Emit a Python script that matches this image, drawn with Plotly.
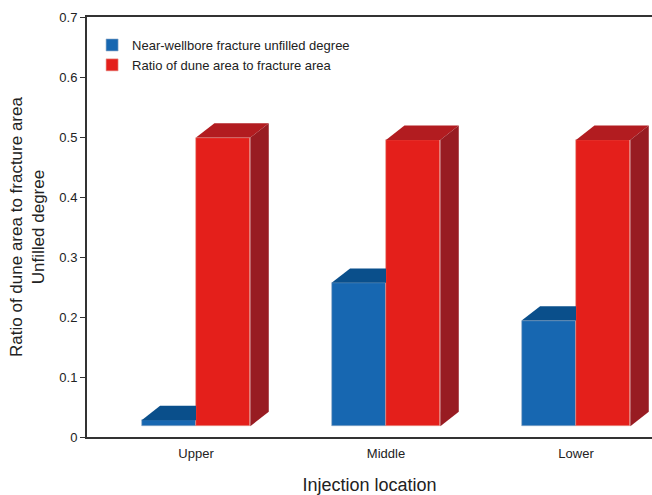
import plotly.graph_objects as go

# Data
categories = ["Upper", "Middle", "Lower"]
unfilled_degree = [0.028, 0.257, 0.194]
dune_ratio = [0.499, 0.495, 0.495]
series_names = ["Near-wellbore fracture unfilled degree", "Ratio of dune area to fracture area"]
y_ticks = [0, 0.1, 0.2, 0.3, 0.4, 0.5, 0.6, 0.7]
y_ticktext = ["0", "0.1", "0.2", "0.3", "0.4", "0.5", "0.6", "0.7"]

# Styling of the pseudo-3D bars
FLOOR = 0.018          # bars sit on a raised floor
BAR_W = 0.286          # width of each bar's front face (x units)
DX, DY = 0.097, 0.024  # depth offset of the back faces

BLUE_FRONT, BLUE_TOP = "#1767B1", "#0A4F8B"
RED_FRONT, RED_TOP, RED_SIDE = "#E41F1B", "#B21C20", "#981C22"

xs = list(range(len(categories)))
fig = go.Figure()


def poly(px, py, color):
    fig.add_trace(go.Scatter(
        x=px + [px[0]], y=py + [py[0]], mode="lines", fill="toself",
        fillcolor=color, line=dict(width=0, color=color),
        hoverinfo="skip", showlegend=False))


# Front faces
fig.add_trace(go.Bar(
    x=[i - BAR_W / 2 for i in xs], y=[v - FLOOR for v in unfilled_degree], base=FLOOR,
    width=BAR_W, marker=dict(color=BLUE_FRONT, line=dict(width=0.6, color="#8FA7C4")),
    name=series_names[0]))
fig.add_trace(go.Bar(
    x=[i + BAR_W / 2 for i in xs], y=[v - FLOOR for v in dune_ratio], base=FLOOR,
    width=BAR_W, marker=dict(color=RED_FRONT, line=dict(width=0.6, color="#E59A90")),
    name=series_names[1]))

# Blue tops (the right part is hidden behind the red bar)
for i, v in zip(xs, unfilled_degree):
    x1, x2 = i - BAR_W, i
    poly([x1, x2, x2, x1 + DX], [v, v, v + DY, v + DY], BLUE_TOP)

# Red tops and sides
for i, v in zip(xs, dune_ratio):
    x1, x2 = i, i + BAR_W
    poly([x1, x2, x2 + DX, x1 + DX], [v, v, v + DY, v + DY], RED_TOP)
    poly([x2, x2 + DX, x2 + DX, x2], [FLOOR, FLOOR + DY, v + DY, v], RED_SIDE)

fig.update_layout(
    width=652, height=495,
    margin=dict(l=87, r=0, t=17, b=58),
    paper_bgcolor="white", plot_bgcolor="white",
    barmode="overlay", bargap=0,
    font=dict(family="Liberation Sans, Arial, sans-serif", color="#222222", size=13),
    legend=dict(x=0.009, y=0.969, xanchor="left", yanchor="top",
                bgcolor="rgba(0,0,0,0)", font=dict(size=13)),
    showlegend=True,
)
fig.update_xaxes(
    range=[-0.5737, 2.400], tickvals=xs, ticktext=categories,
    showline=True, linecolor="#333333", linewidth=2, mirror=True,
    ticks="", showgrid=False, zeroline=False, tickfont=dict(size=13),
    ticklabelstandoff=3,
    title=dict(text="Injection location", font=dict(size=18), standoff=19),
)
fig.update_yaxes(
    range=[0, 0.7], tickvals=y_ticks, ticktext=y_ticktext,
    showline=True, linecolor="#333333", linewidth=2,
    ticks="outside", ticklen=5, tickcolor="#333333", tickwidth=1,
    showgrid=False, zeroline=False, tickfont=dict(size=13),
    title=dict(text="Ratio of dune area to fracture area<br>Unfilled degree",
               font=dict(size=17), standoff=10),
)

fig.write_html("out.html")
